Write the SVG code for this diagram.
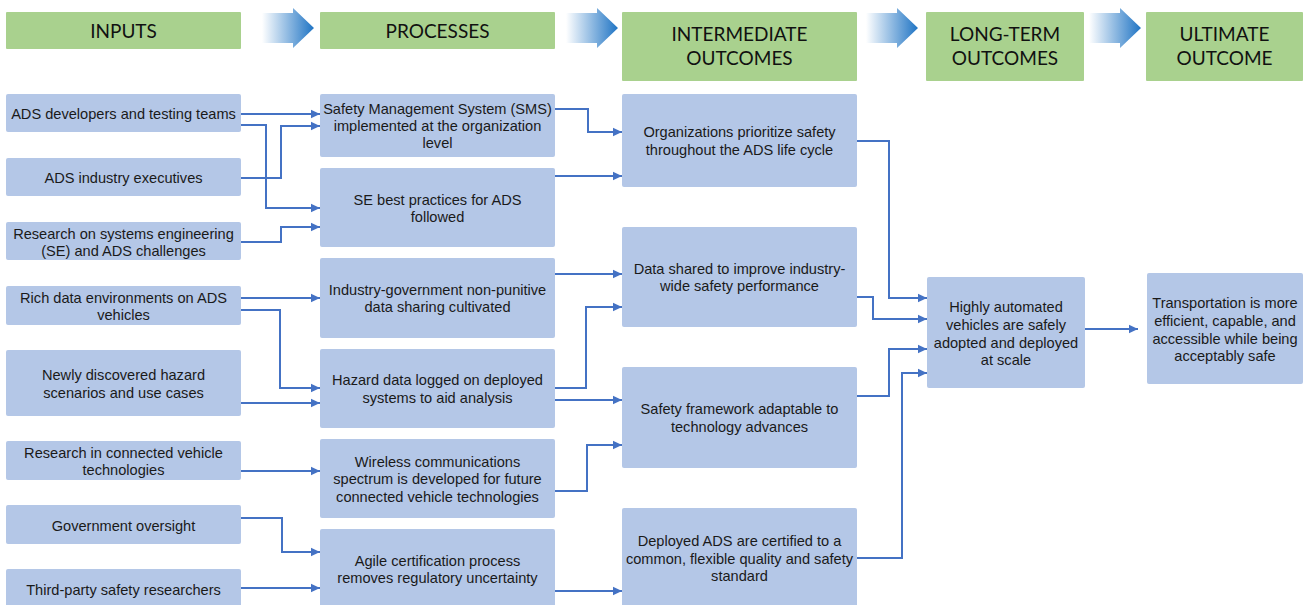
<svg xmlns="http://www.w3.org/2000/svg" width="1307" height="605" viewBox="0 0 1307 605">
  <defs>
    <linearGradient id="stageGrad" x1="0" y1="0" x2="1" y2="0">
      <stop offset="0" stop-color="#ffffff"/>
      <stop offset="1" stop-color="#1f74c4"/>
    </linearGradient>
    <marker id="arrowhead" markerUnits="userSpaceOnUse" markerWidth="10" markerHeight="10" refX="9" refY="5" orient="auto">
      <path d="M0,0.8 L9,5 L0,9.2 Z" fill="#4472c4"/>
    </marker>
    <path id="stageArrow" d="M0,5 H31 V0 L52,20 L31,40 V35 H0 Z"/>
  </defs>
  <style>
    .hdr rect { fill: #a9d18e; }
    .hdr text { font-family: Lato, "Open Sans", "Liberation Sans", sans-serif; font-size: 19px; fill: #111; text-anchor: middle; }
    .node rect { fill: #b4c7e7; }
    .node text { font-family: "Liberation Sans", Arial, sans-serif; font-size: 14.6px; fill: #1a1a1a; text-anchor: middle; }
    .links path { fill: none; stroke: #4472c4; stroke-width: 2; marker-end: url(#arrowhead); }
  </style>
  <rect width="1307" height="605" fill="#ffffff"/>

  <!-- stage headers -->
  <g id="hdr-inputs" class="hdr"><rect x="6" y="12" width="235" height="37" rx="1"/><text x="123.5" y="38">INPUTS</text></g>
  <g id="hdr-processes" class="hdr"><rect x="320" y="12" width="235" height="37" rx="1"/><text x="437.5" y="38">PROCESSES</text></g>
  <g id="hdr-intermediate" class="hdr"><rect x="622" y="12" width="235" height="69" rx="1"/><text x="739.5" y="41">INTERMEDIATE</text><text x="739.5" y="65">OUTCOMES</text></g>
  <g id="hdr-longterm" class="hdr"><rect x="926" y="12" width="158" height="69" rx="1"/><text x="1005" y="41">LONG-TERM</text><text x="1005" y="65">OUTCOMES</text></g>
  <g id="hdr-ultimate" class="hdr"><rect x="1146" y="12" width="157" height="69" rx="1"/><text x="1224.5" y="41">ULTIMATE</text><text x="1224.5" y="65">OUTCOME</text></g>

  <!-- stage arrows -->
  <g id="stage-arrows" fill="url(#stageGrad)">
    <use href="#stageArrow" x="262" y="8"/>
    <use href="#stageArrow" x="566" y="8"/>
    <use href="#stageArrow" x="866" y="8"/>
    <use href="#stageArrow" x="1089" y="8"/>
  </g>

  <!-- inputs -->
  <g id="in-developers" class="node"><rect x="6" y="94" width="235" height="38" rx="2"/><text x="123.5" y="119">ADS developers and testing teams</text></g>
  <g id="in-executives" class="node"><rect x="6" y="158" width="235" height="38" rx="2"/><text x="123.5" y="183">ADS industry executives</text></g>
  <g id="in-se-research" class="node"><rect x="6" y="222" width="235" height="38" rx="2"/><text x="123.5" y="239">Research on systems engineering</text><text x="123.5" y="256">(SE) and ADS challenges</text></g>
  <g id="in-rich-data" class="node"><rect x="6" y="286" width="235" height="39" rx="2"/><text x="123.5" y="303">Rich data environments on ADS</text><text x="123.5" y="320">vehicles</text></g>
  <g id="in-hazards" class="node"><rect x="6" y="350" width="235" height="66" rx="2"/><text x="123.5" y="380">Newly discovered hazard</text><text x="123.5" y="398">scenarios and use cases</text></g>
  <g id="in-cv-research" class="node"><rect x="6" y="441" width="235" height="39" rx="2"/><text x="123.5" y="458">Research in connected vehicle</text><text x="123.5" y="475">technologies</text></g>
  <g id="in-oversight" class="node"><rect x="6" y="505" width="235" height="39" rx="2"/><text x="123.5" y="531">Government oversight</text></g>
  <g id="in-third-party" class="node"><rect x="6" y="569" width="235" height="40" rx="2"/><text x="123.5" y="595">Third-party safety researchers</text></g>

  <!-- processes -->
  <g id="pr-sms" class="node"><rect x="320" y="94" width="235" height="63" rx="2"/><text x="437.5" y="114">Safety Management System (SMS)</text><text x="437.5" y="131">implemented at the organization</text><text x="437.5" y="148">level</text></g>
  <g id="pr-se" class="node"><rect x="320" y="168" width="235" height="79" rx="2"/><text x="437.5" y="205">SE best practices for ADS</text><text x="437.5" y="222">followed</text></g>
  <g id="pr-sharing" class="node"><rect x="320" y="258" width="235" height="80" rx="2"/><text x="437.5" y="295">Industry-government non-punitive</text><text x="437.5" y="312">data sharing cultivated</text></g>
  <g id="pr-hazard-log" class="node"><rect x="320" y="349" width="235" height="79" rx="2"/><text x="437.5" y="385">Hazard data logged on deployed</text><text x="437.5" y="403">systems to aid analysis</text></g>
  <g id="pr-spectrum" class="node"><rect x="320" y="439" width="235" height="79" rx="2"/><text x="437.5" y="467">Wireless communications</text><text x="437.5" y="484">spectrum is developed for future</text><text x="437.5" y="502">connected vehicle technologies</text></g>
  <g id="pr-certification" class="node"><rect x="320" y="529" width="235" height="80" rx="2"/><text x="437.5" y="566">Agile certification process</text><text x="437.5" y="583">removes regulatory uncertainty</text></g>

  <!-- intermediate outcomes -->
  <g id="io-prioritize" class="node"><rect x="622" y="94" width="235" height="93" rx="2"/><text x="739.5" y="137">Organizations prioritize safety</text><text x="739.5" y="155">throughout the ADS life cycle</text></g>
  <g id="io-data-shared" class="node"><rect x="622" y="227" width="235" height="100" rx="2"/><text x="739.5" y="274">Data shared to improve industry-</text><text x="739.5" y="291">wide safety performance</text></g>
  <g id="io-framework" class="node"><rect x="622" y="367" width="235" height="101" rx="2"/><text x="739.5" y="414">Safety framework adaptable to</text><text x="739.5" y="432">technology advances</text></g>
  <g id="io-certified" class="node"><rect x="622" y="508" width="235" height="101" rx="2"/><text x="739.5" y="546">Deployed ADS are certified to a</text><text x="739.5" y="564">common, flexible quality and safety</text><text x="739.5" y="581">standard</text></g>

  <!-- long-term outcome -->
  <g id="lt-adoption" class="node"><rect x="927" y="277" width="158" height="111" rx="2"/><text x="1006" y="312">Highly automated</text><text x="1006" y="330">vehicles are safely</text><text x="1006" y="348">adopted and deployed</text><text x="1006" y="365">at scale</text></g>

  <!-- ultimate outcome -->
  <g id="uo-transportation" class="node"><rect x="1147" y="273" width="156" height="111" rx="2"/><text x="1225" y="308">Transportation is more</text><text x="1225" y="326">efficient, capable, and</text><text x="1225" y="344">accessible while being</text><text x="1225" y="361">acceptably safe</text></g>

  <!-- connectors -->
  <g id="connectors" class="links">
    <path d="M241,114 H320"/>
    <path d="M241,125 H266 V208 H320"/>
    <path d="M241,178 H281 V126 H320"/>
    <path d="M241,242 H281 V227 H320"/>
    <path d="M241,298 H320"/>
    <path d="M241,310 H280 V388 H320"/>
    <path d="M241,403 H320"/>
    <path d="M241,471 H320"/>
    <path d="M241,518 H282 V552 H320"/>
    <path d="M241,588 H320"/>

    <path d="M555,109 H588 V132 H622"/>
    <path d="M555,176 H622"/>
    <path d="M555,274 H622"/>
    <path d="M555,388 H586 V307 H622"/>
    <path d="M555,400 H622"/>
    <path d="M555,491 H587 V445 H622"/>
    <path d="M555,591 H622"/>

    <path d="M857,141 H889 V298 H927"/>
    <path d="M857,297 H873 V319 H927"/>
    <path d="M857,396 H889 V349 H927"/>
    <path d="M857,558 H902 V373 H927"/>

    <path d="M1085,329 H1138"/>
  </g>
</svg>
